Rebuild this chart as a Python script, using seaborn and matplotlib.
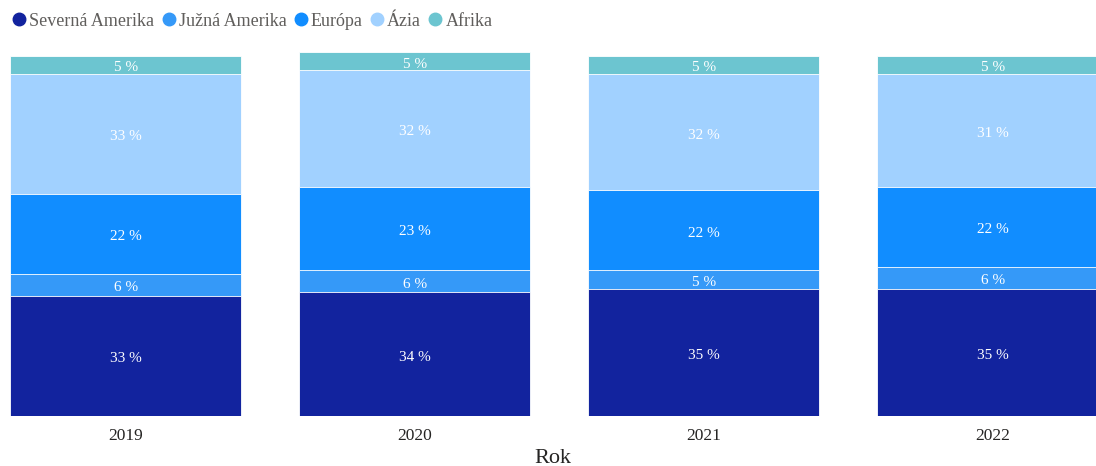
"""Stacked share of regions per year (Rok)."""

import matplotlib.pyplot as plt
import matplotlib.transforms as mtransforms
import numpy as np
import pandas as pd
import seaborn as sns
from matplotlib.lines import Line2D

plt.switch_backend("Agg")

YEARS = ["2019", "2020", "2021", "2022"]
REGIONS = ["Severná Amerika", "Južná Amerika", "Európa", "Ázia", "Afrika"]
SEVERNA = [33, 34, 35, 35]
JUZNA = [6, 6, 5, 6]
EUROPA = [22, 23, 22, 22]
AZIA = [33, 32, 32, 31]
AFRIKA = [5, 5, 5, 5]
COLORS = ["#12239E", "#3599F8", "#118DFF", "#A1D1FF", "#6CC5D0"]


def main() -> None:
    sns.set_theme(style="white")
    plt.rcParams["font.family"] = ["Liberation Serif", "DejaVu Serif"]

    values = np.array([SEVERNA, JUZNA, EUROPA, AZIA, AFRIKA], dtype=float)
    cum = values.cumsum(axis=0)

    fig = plt.figure(figsize=(10.96, 4.66), dpi=100)
    ax = fig.add_axes([10 / 1096, 50 / 466, 1086 / 1096, 364 / 466])

    # draw cumulative layers from the top down so each covers the one below
    for i in range(len(REGIONS) - 1, -1, -1):
        df = pd.DataFrame({"Rok": YEARS, "cum": cum[i]})
        sns.barplot(
            data=df,
            x="Rok",
            y="cum",
            color=COLORS[i],
            saturation=1,
            width=0.8,
            edgecolor="white",
            linewidth=0.6,
            ax=ax,
        )

    shift = ax.transData + mtransforms.ScaledTranslation(0, -3 / 100, fig.dpi_scale_trans)
    for i in range(len(REGIONS)):
        for j in range(len(YEARS)):
            ax.text(
                j,
                cum[i, j] - values[i, j] / 2,
                f"{int(values[i, j])} %",
                ha="center",
                va="center",
                color="white",
                fontsize=11,
                transform=shift,
            )

    ax.set_xlim(-0.4, -0.4 + 1086 / 289)
    ax.set_ylim(0, 100)
    ax.set_yticks([])
    ax.set_ylabel("")
    ax.set_xlabel("Rok", fontsize=16, color="#252423", labelpad=3)
    ax.tick_params(axis="x", labelsize=12.5, colors="#252423", length=0, pad=9)
    for s in ax.spines.values():
        s.set_visible(False)

    handles = [
        Line2D([], [], marker="o", linestyle="", markersize=9,
               markerfacecolor=c, markeredgecolor=c)
        for c in COLORS
    ]
    fig.legend(
        handles,
        REGIONS,
        loc="upper left",
        bbox_to_anchor=(-0.007, 1.008),
        ncol=5,
        frameon=False,
        handletextpad=-0.05,
        columnspacing=0.2,
        handlelength=1.2,
        prop={"size": 13},
        labelcolor="#605E5C",
    )

    fig.savefig("out.png", dpi=100)
    plt.close(fig)


if __name__ == "__main__":
    main()
